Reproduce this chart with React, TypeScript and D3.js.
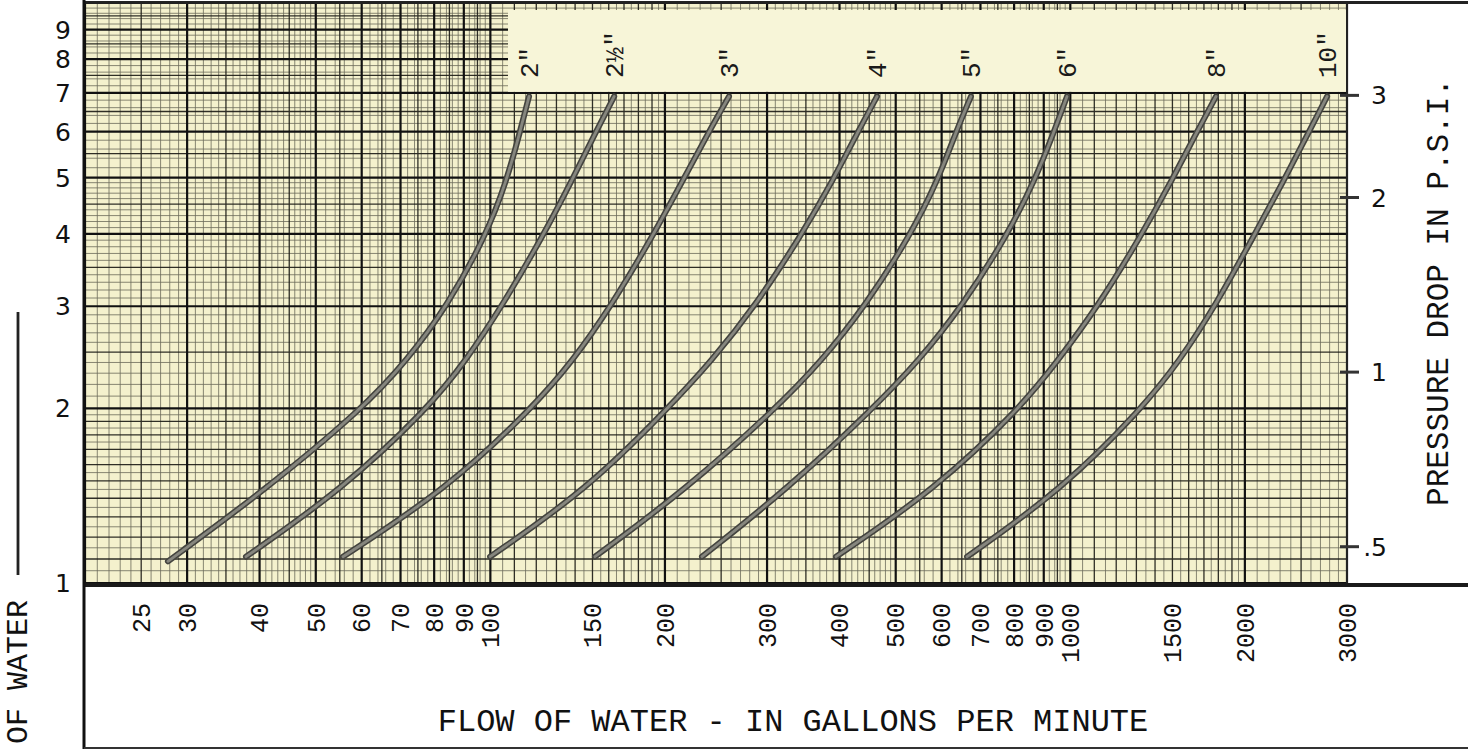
import React from 'react';
import * as d3 from 'd3';

const W = 1468;
const H = 751;

// ---- data ----
const flowTicks = [25, 30, 40, 50, 60, 70, 80, 90, 100, 150, 200, 300, 400, 500, 600, 700, 800, 900, 1000, 1500, 2000, 3000];
const headTicks = [1, 2, 3, 4, 5, 6, 7, 8, 9];
const psiTicks = [0.5, 1, 2, 3];
const psiLabels = ['.5', '1', '2', '3'];
const FT_PER_PSI = 2.31;

const pipeSizes = ['2"', '2½"', '3"', '4"', '5"', '6"', '8"', '10"'];

// head loss (ft) read at the grid lines each curve crosses
const head2 = [1.09, 1.45, 2.0, 2.42, 3.0, 3.97, 4.95, 6.0, 6.9];
const headStd = [1.11, 1.45, 2.0, 2.42, 3.0, 3.97, 4.95, 6.0, 6.9];

const flow2 = [27.8, 41.0, 60.3, 71.8, 84.2, 98.3, 106.8, 112.5, 116.6];
const flow2h = [37.9, 55.5, 78.1, 90.8, 104.7, 123.3, 138.3, 152.1, 163.5];
const flow3 = [55.7, 83.9, 118.0, 138.9, 161.4, 190.7, 214.8, 238.2, 257.9];
const flow4 = [99.9, 146.8, 202.4, 241.1, 286.0, 343.4, 389.8, 430.4, 464.2];
const flow5 = [151.5, 217.4, 310.8, 373.2, 442.6, 529.4, 591.4, 635.4, 674.0];
const flow6 = [231.7, 324.6, 457.0, 548.6, 650.6, 777.8, 869.2, 937.4, 987.0];
const flow8 = [394.5, 584.4, 819.0, 952.4, 1116.2, 1324.4, 1497.2, 1653.8, 1783.4];
const flow10 = [663.8, 967.6, 1329.4, 1545.6, 1776.4, 2073.6, 2336.2, 2580, 2772];

const pipeFlows = [flow2, flow2h, flow3, flow4, flow5, flow6, flow8, flow10];
const pipeHeads = [head2, headStd, headStd, headStd, headStd, headStd, headStd, headStd];

const xTitle = 'FLOW OF WATER - IN GALLONS PER MINUTE';
const yRightTitle = 'PRESSURE DROP IN P.S.I.';
const yLeftTitle = 'OF WATER';

// ---- layout ----
const PL = 85;
const PR = 1347;
const PT = 3;
const PB = 583;

const xScale = d3.scaleLog().domain([20, 3000]).range([PL, PR]);
const yScale = d3.scaleLog().domain([1, 10]).range([PB, PT]);

type GL = { v: number; level: number };
function gridValues(lo: number, hi: number): GL[] {
  const out: GL[] = [];
  const e0 = Math.floor(Math.log10(lo));
  const e1 = Math.ceil(Math.log10(hi));
  for (let e = e0; e <= e1; e++) {
    const b = Math.pow(10, e);
    for (let k = 100; k < 1000; k++) {
      let level = -1;
      if (k % 100 === 0) level = 2;
      else if (k < 200 && k % 10 === 0) level = 1;
      else if (k >= 200 && k % 50 === 0) level = 1;
      else if (k < 200 && k % 5 === 0) level = 0;
      else if (k >= 200 && k < 500 && k % 10 === 0) level = 0;
      else if (k >= 500 && k % 20 === 0) level = 0;
      if (level < 0) continue;
      const v = (k / 100) * b;
      if (v >= lo * 0.9999 && v <= hi * 1.0001) out.push({ v, level });
    }
  }
  return out;
}

const mono = '"Liberation Mono", "DejaVu Sans Mono", monospace';
const sans = '"DejaVu Sans", "Liberation Sans", sans-serif';

const lineStyles = [
  { stroke: '#2c2c24', width: 0.8, opacity: 0.68 },
  { stroke: '#1a1a14', width: 1.3, opacity: 0.9 },
  { stroke: '#111', width: 2.2, opacity: 1 },
];

export default function App() {
  const xg = gridValues(20, 3000);
  const yg = gridValues(1, 10);
  const line = d3
    .line<[number, number]>()
    .x((d) => xScale(d[0]))
    .y((d) => yScale(d[1]))
    .curve(d3.curveBasis);

  const levels = [0, 1, 2];

  return (
    <svg
      width={W}
      height={H}
      viewBox={`0 0 ${W} ${H}`}
      style={{ position: 'absolute', left: 0, top: 0, display: 'block', background: '#fff' }}
    >
      <rect x={0} y={0} width={W} height={H} fill="#ffffff" />
      {/* paper */}
      <rect x={PL} y={PT} width={PR - PL} height={PB - PT} fill="#f4f1cd" />
      {/* grid */}
      {levels.map((lv) => (
        <g key={'lv' + lv} stroke={lineStyles[lv].stroke} strokeWidth={lineStyles[lv].width} opacity={lineStyles[lv].opacity}>
          {xg.filter((g) => g.level === lv).map((g, i) => (
            <line key={'x' + i} x1={xScale(g.v)} x2={xScale(g.v)} y1={PT} y2={PB} />
          ))}
          {yg.filter((g) => g.level === lv).map((g, i) => (
            <line key={'y' + i} x1={PL} x2={PR} y1={yScale(g.v)} y2={yScale(g.v)} />
          ))}
        </g>
      ))}
      {/* label band */}
      <rect x={508} y={10} width={PR - 508} height={yScale(7) - 11} fill="#f7f5d8" />
      {/* size labels */}
      {pipeSizes.map((s, i) => {
        const fl = pipeFlows[i];
        const x = xScale(fl[fl.length - 1]);
        return (
          <text
            key={'s' + i}
            transform={`translate(${x},${78}) rotate(-90)`}
            dy="0.35em"
            fontFamily={mono}
            fontSize={26}
            fill="#1a1a1a"
          >
            {s}
          </text>
        );
      })}
      {/* curves */}
      {pipeFlows.map((fl, i) => {
        const pts = fl.map((f, j) => [f, pipeHeads[i][j]] as [number, number]);
        const d = line(pts) || '';
        return (
          <g key={'c' + i} fill="none" strokeLinecap="round" strokeLinejoin="round">
            <path d={d} stroke="#44443f" strokeWidth={6} />
            <path d={d} stroke="#86867e" strokeWidth={2.8} />
          </g>
        );
      })}
      {/* frame */}
      <line x1={PR} x2={PR} y1={PT} y2={PB + 2} stroke="#222" strokeWidth={2} />
      <line x1={84} x2={W} y1={2.5} y2={2.5} stroke="#222" strokeWidth={3} />
      <line x1={84} x2={W} y1={PB + 2} y2={PB + 2} stroke="#1a1a1a" strokeWidth={4} />
      <line x1={84} x2={84} y1={0} y2={749} stroke="#111" strokeWidth={3} />
      <line x1={84} x2={W} y1={748} y2={748} stroke="#333" strokeWidth={2} />
      {/* left axis labels */}
      {headTicks.map((t) => (
        <text key={'h' + t} x={71} y={yScale(t)} dy="0.36em" textAnchor="end" fontFamily={sans} fontSize={25} fill="#111">
          {t}
        </text>
      ))}
      {/* right axis (psi) */}
      {psiTicks.map((p, i) => {
        const y = yScale(p * FT_PER_PSI);
        return (
          <g key={'p' + i}>
            <line x1={1340} x2={1359} y1={y} y2={y} stroke="#333" strokeWidth={3} />
            <text x={1387} y={y} dy="0.36em" textAnchor="end" fontFamily={sans} fontSize={25} fill="#111">
              {psiLabels[i]}
            </text>
          </g>
        );
      })}
      {/* x tick labels */}
      {flowTicks.map((t) => (
        <text
          key={'f' + t}
          transform={`translate(${xScale(t)},603) rotate(-90)`}
          dy="0.35em"
          textAnchor="end"
          fontFamily={mono}
          fontSize={25}
          fill="#111"
        >
          {t}
        </text>
      ))}
      {/* titles */}
      <text x={793} y={731} textAnchor="middle" fontFamily={mono} fontSize={32} fill="#111">
        {xTitle}
      </text>
      <text transform={`translate(1448,292) rotate(-90)`} textAnchor="middle" fontFamily={mono} fontSize={31} fill="#111">
        {yRightTitle}
      </text>
      <text transform={`translate(27,600) rotate(-90)`} textAnchor="end" fontFamily={mono} fontSize={30} fill="#111">
        {yLeftTitle}
      </text>
      <line x1={18} x2={18} y1={312} y2={575} stroke="#222" strokeWidth={2.8} />
    </svg>
  );
}
